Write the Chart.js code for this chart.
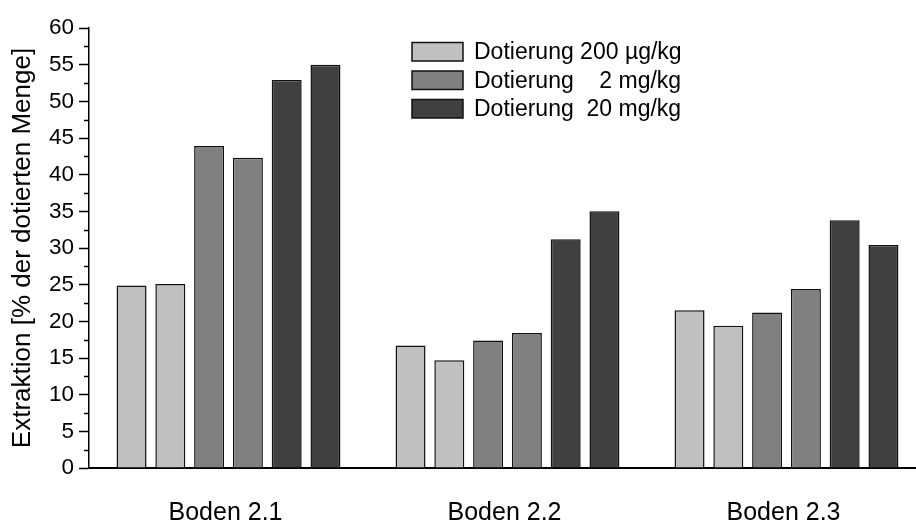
<!DOCTYPE html>
<html>
<head>
<meta charset="utf-8">
<script src="https://cdn.jsdelivr.net/npm/chart.js@4/dist/chart.umd.min.js"></script>
<style>
  html, body { margin: 0; padding: 0; background: #fff; overflow: hidden; }
  #wrap { width: 916px; height: 523px; overflow: hidden; }
</style>
</head>
<body>
<div id="wrap"><canvas id="c" width="926" height="523"></canvas></div>
<script>
// Soil samples on the x axis
const categories = ['Boden 2.1', 'Boden 2.2', 'Boden 2.3'];

// Spiking levels (two replicate bars per level)
const levels = ['Dotierung 200 µg/kg', 'Dotierung    2 mg/kg', 'Dotierung  20 mg/kg'];

// Extraction in % of the spiked amount, replicate a / b per level
const dot200a = [24.9, 16.7, 21.5];
const dot200b = [25.1, 14.7, 19.4];
const dot2a   = [43.9, 17.4, 21.2];
const dot2b   = [42.3, 18.4, 24.4];
const dot20a  = [52.9, 31.2, 33.8];
const dot20b  = [55.0, 35.0, 30.4];

// Y axis range and tick spacing
const yMin = 0;
const yMax = 60;
const yMajorStep = 5;
const yMinorStep = 2.5;

const yTitle = 'Extraktion [% der dotierten Menge]';

const levelColors = ['#c0c0c0', '#808080', '#404040'];
const FONT = "'Liberation Sans', Arial, sans-serif";

const series = [
  { level: 0, values: dot200a },
  { level: 0, values: dot200b },
  { level: 1, values: dot2a },
  { level: 1, values: dot2b },
  { level: 2, values: dot20a },
  { level: 2, values: dot20b }
];

const datasets = series.map(s => ({
  label: levels[s.level],
  data: s.values,
  backgroundColor: levelColors[s.level],
  borderColor: '#111',
  borderWidth: 1.5,
  borderSkipped: 'bottom',
  categoryPercentage: 0.834,
  barPercentage: 0.773
}));

// Short minor ticks between the labelled ones on the value axis
const minorTicks = {
  id: 'minorTicks',
  afterDraw(chart) {
    const y = chart.scales.y;
    const ctx = chart.ctx;
    ctx.save();
    ctx.strokeStyle = '#000';
    ctx.lineWidth = 1.5;
    y.ticks.forEach(t => {
      if (t.value % yMajorStep !== 0) {
        const py = Math.round(y.getPixelForValue(t.value)) + 0.5;
        ctx.beginPath();
        ctx.moveTo(y.right - 5, py);
        ctx.lineTo(y.right, py);
        ctx.stroke();
      }
    });
    ctx.restore();
  }
};

// Legend with one entry per spiking level, drawn inside the plot
const levelLegend = {
  id: 'levelLegend',
  afterDraw(chart) {
    const ctx = chart.ctx;
    const x = 412, w = 51, h = 18.5;
    const tops = [42.5, 71, 99.5];
    ctx.save();
    ctx.font = '23px ' + FONT;
    ctx.textBaseline = 'middle';
    ctx.textAlign = 'left';
    levels.forEach((txt, i) => {
      ctx.fillStyle = levelColors[i];
      ctx.fillRect(x, tops[i], w, h);
      ctx.strokeStyle = '#111';
      ctx.lineWidth = 1.5;
      ctx.strokeRect(x, tops[i], w, h);
      ctx.fillStyle = '#000';
      ctx.fillText(txt, x + 62, tops[i] + h / 2 + 1);
    });
    ctx.restore();
  }
};

Chart.defaults.font.family = FONT;
Chart.defaults.color = '#000';

new Chart(document.getElementById('c'), {
  type: 'bar',
  data: { labels: categories, datasets },
  plugins: [minorTicks, levelLegend],
  options: {
    responsive: false,
    animation: false,
    devicePixelRatio: 1,
    layout: { padding: { top: 28, left: 0, right: 0, bottom: 0 } },
    plugins: {
      legend: { display: false },
      tooltip: { enabled: false }
    },
    scales: {
      x: {
        type: 'category',
        offset: true,
        grid: { display: false, drawTicks: false, tickLength: 0 },
        border: { display: true, color: '#000', width: 2 },
        ticks: { font: { size: 25 }, color: '#000', padding: 30, labelOffset: -3 },
        afterFit(scale) { scale.height = 55; }
      },
      y: {
        min: yMin,
        max: yMax,
        grid: {
          drawOnChartArea: false,
          drawTicks: true,
          tickLength: 10,
          tickWidth: 1.5,
          tickColor: c => (c.tick && c.tick.value % yMajorStep === 0) ? '#000' : 'rgba(0,0,0,0)'
        },
        border: { display: true, color: '#000', width: 1.5 },
        ticks: {
          stepSize: yMinorStep,
          autoSkip: false,
          padding: 5,
          font: { size: 22.5 },
          color: '#000',
          callback: v => (v % yMajorStep === 0 ? String(v) : '')
        },
        title: {
          display: true,
          text: yTitle,
          font: { size: 26 },
          color: '#000',
          padding: { top: 7, bottom: 0 }
        },
        afterFit(scale) { scale.width = 89; }
      }
    }
  }
});
</script>
</body>
</html>
